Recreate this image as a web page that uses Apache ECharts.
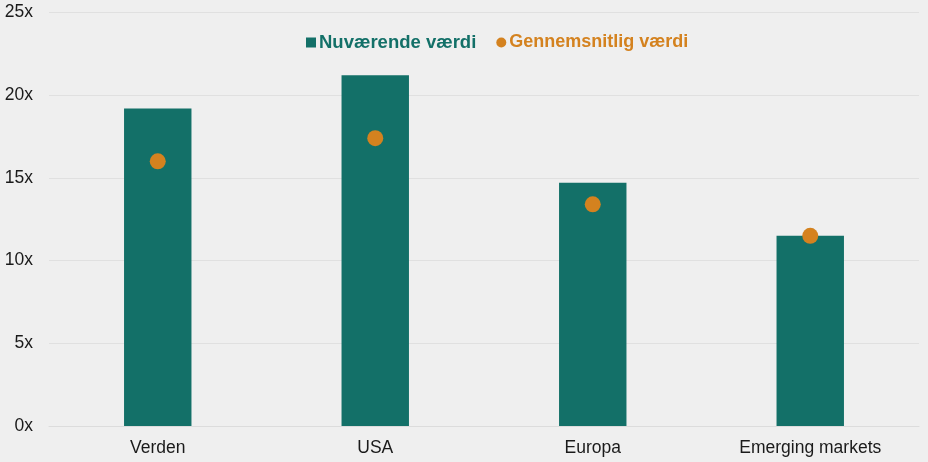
<!DOCTYPE html>
<html lang="da">

<head>
    <meta charset="UTF-8">
    <title>Nuværende og gennemsnitlig værdi</title>
    <style>
        body {
            margin: 0px;
            padding: 0px;
            background: #efefef;
        }

        #chart {
            width: 928px;
            height: 462px;
        }
    </style>
</head>

<body>
    <div id="chart"></div>
    <script src="https://cdn.jsdelivr.net/npm/echarts@6/dist/echarts.min.js"></script>
    <script>
        var categories = ['Verden', 'USA', 'Europa', 'Emerging markets'];
        var currentValues = [19.2, 21.2, 14.7, 11.5];
        var averageValues = [16.0, 17.4, 13.4, 11.5];
        var yTicks = [0, 5, 10, 15, 20, 25];

        var teal = '#137068';
        var orange = '#d4821f';

        var myChart = echarts.init(document.getElementById('chart'));

        var option = {
            backgroundColor: '#efefef',
            textStyle: { fontFamily: 'Liberation Sans, Arial, sans-serif' },
            grid: { left: 49, right: 9, top: 12.5, bottom: 36 },
            legend: {
                top: 28,
                left: 301,
                itemGap: 20,
                itemWidth: 10,
                itemHeight: 10,
                textStyle: { fontSize: 18.5, fontWeight: 'bold', padding: [0, 0, 0, -2] },
                data: [
                    { name: 'Nuværende værdi', icon: 'rect', textStyle: { color: teal } },
                    { name: 'Gennemsnitlig værdi', icon: 'circle', textStyle: { color: orange, fontSize: 18 } }
                ]
            },
            xAxis: {
                type: 'category',
                data: categories,
                axisTick: { show: false },
                axisLine: { lineStyle: { color: '#dcdcdc' } },
                axisLabel: { color: '#1a1a1a', fontSize: 17.5, margin: 13 }
            },
            yAxis: {
                type: 'value',
                min: yTicks[0],
                max: yTicks[yTicks.length - 1],
                interval: 5,
                axisLine: { show: false },
                axisTick: { show: false },
                splitLine: { lineStyle: { color: '#e0e0e0' } },
                axisLabel: {
                    color: '#1a1a1a',
                    fontSize: 17.5,
                    margin: 16,
                    formatter: function (v) { return v + 'x'; }
                }
            },
            series: [
                {
                    name: 'Nuværende værdi',
                    type: 'bar',
                    data: currentValues,
                    barWidth: '31%',
                    itemStyle: { color: teal },
                    z: 2
                },
                {
                    name: 'Gennemsnitlig værdi',
                    type: 'scatter',
                    data: averageValues,
                    symbol: 'circle',
                    symbolSize: 16,
                    itemStyle: { color: orange, opacity: 1 },
                    z: 3
                }
            ]
        };

        myChart.setOption(option);
    </script>
</body>

</html>
